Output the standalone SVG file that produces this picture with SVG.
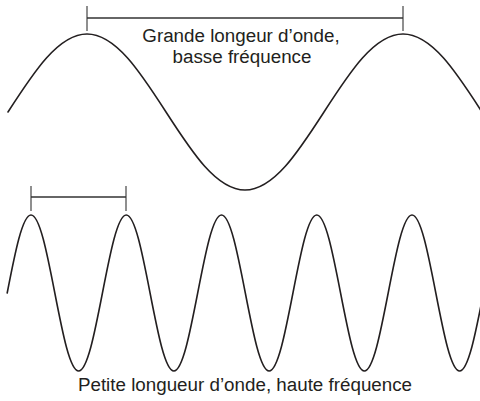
<svg xmlns="http://www.w3.org/2000/svg" width="480" height="401" viewBox="0 0 480 401">
<style>
.wave{fill:none;stroke:#231f20;stroke-width:1.6;stroke-linecap:round}
.bar{fill:none;stroke:#333;stroke-width:1.5}
.tick{fill:none;stroke:#333;stroke-width:1.1}
.lbl{font-family:"Liberation Sans",Arial,sans-serif;font-size:18.8px;fill:#231f20;text-anchor:middle}
</style>
<rect width="480" height="401" fill="#fff"/>
<g id="long-wave">
<path class="wave" d="M8,112 C33.76,72.04 58.41,34 87,34 C115.59,34 140.24,72.04 166,112 C191.76,151.96 216.41,190 245,190 C273.59,190 298.24,151.96 324,112 C349.76,72.04 374.41,34 403,34 C431.59,34 456.24,72.04 482,112"/>
</g>
<g id="long-bracket">
<line class="bar" x1="87" y1="18" x2="403" y2="18"/>
<line class="tick" x1="87" y1="6" x2="87" y2="31"/>
<line class="tick" x1="403" y1="6" x2="403" y2="31"/>
</g>
<g id="long-label">
<text class="lbl" x="241" y="42">Grande longeur d’onde,</text>
<text class="lbl" x="242" y="63">basse fréquence</text>
</g>
<g id="short-wave">
<path class="wave" d="M7.19,293 c7.765,-39.96 15.194,-78 23.8125,-78 c8.617,0 16.046,38.04 23.8125,78 c7.765,39.96 15.194,78 23.8125,78 c8.617,0 16.046,-38.04 23.8125,-78 c7.765,-39.96 15.194,-78 23.8125,-78 c8.617,0 16.046,38.04 23.8125,78 c7.765,39.96 15.194,78 23.8125,78 c8.617,0 16.046,-38.04 23.8125,-78 c7.765,-39.96 15.194,-78 23.8125,-78 c8.617,0 16.046,38.04 23.8125,78 c7.765,39.96 15.194,78 23.8125,78 c8.617,0 16.046,-38.04 23.8125,-78 c7.765,-39.96 15.194,-78 23.8125,-78 c8.617,0 16.046,38.04 23.8125,78 c7.765,39.96 15.194,78 23.8125,78 c8.617,0 16.046,-38.04 23.8125,-78 c7.765,-39.96 15.194,-78 23.8125,-78 c8.617,0 16.046,38.04 23.8125,78 c7.765,39.96 15.194,78 23.8125,78 c8.617,0 16.046,-38.04 23.8125,-78"/>
</g>
<g id="short-bracket">
<line class="bar" x1="31" y1="197" x2="126" y2="197"/>
<line class="tick" x1="31" y1="186" x2="31" y2="211"/>
<line class="tick" x1="126" y1="186" x2="126" y2="211"/>
</g>
<g id="short-label">
<text class="lbl" x="245" y="391">Petite longueur d’onde, haute fréquence</text>
</g>
</svg>
